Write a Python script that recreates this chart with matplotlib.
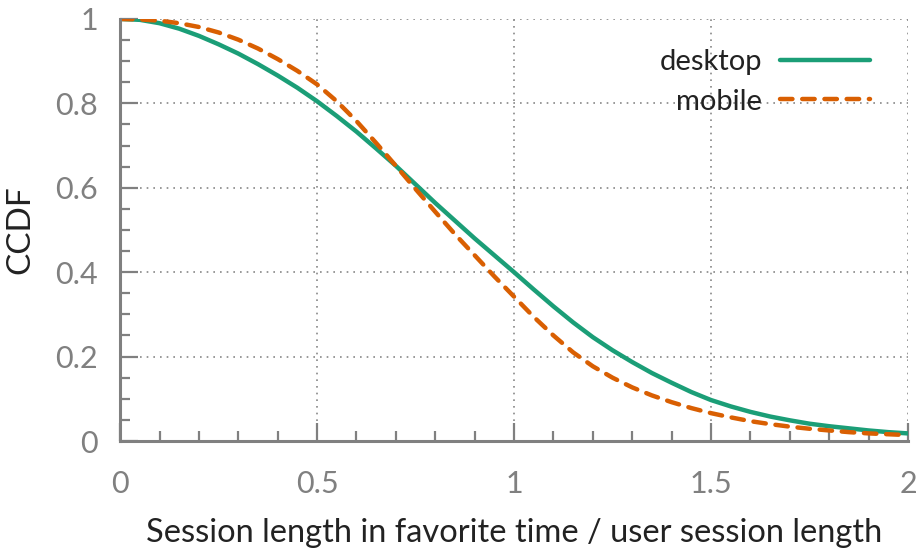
import matplotlib as mpl
mpl.use('Agg')
import matplotlib.pyplot as plt
import numpy as np

x = [0.0, 0.05, 0.1, 0.15, 0.2, 0.25, 0.3, 0.35, 0.4, 0.45, 0.5,
     0.55, 0.6, 0.65, 0.7, 0.75, 0.8, 0.85, 0.9, 0.95, 1.0,
     1.05, 1.1, 1.15, 1.2, 1.25, 1.3, 1.35, 1.4, 1.45, 1.5,
     1.55, 1.6, 1.65, 1.7, 1.75, 1.8, 1.85, 1.9, 1.95, 2.0]
desktop = [1.0, 0.998, 0.99, 0.977, 0.96, 0.94, 0.918, 0.893, 0.866, 0.837, 0.805,
           0.77, 0.733, 0.693, 0.652, 0.608, 0.564, 0.522, 0.48, 0.44, 0.40,
           0.359, 0.319, 0.281, 0.246, 0.215, 0.187, 0.161, 0.138, 0.116, 0.097,
           0.082, 0.069, 0.058, 0.049, 0.041, 0.035, 0.03, 0.025, 0.021, 0.018]
mobile = [1.0, 0.999, 0.996, 0.99, 0.981, 0.968, 0.951, 0.93, 0.905, 0.877, 0.845,
          0.805, 0.758, 0.706, 0.652, 0.597, 0.543, 0.49, 0.44, 0.39, 0.342,
          0.294, 0.25, 0.21, 0.177, 0.15, 0.127, 0.108, 0.092, 0.078, 0.066,
          0.056, 0.047, 0.04, 0.034, 0.029, 0.025, 0.021, 0.018, 0.016, 0.014]

xticks = [0, 0.5, 1, 1.5, 2]
xlabels = ['0', '0.5', '1', '1.5', '2']
yticks = [0, 0.2, 0.4, 0.6, 0.8, 1]
ylabels = ['0', '0.2', '0.4', '0.6', '0.8', '1']

plt.rcParams['font.family'] = ['Lato', 'DejaVu Sans']
gray = '#808080'

fig = plt.figure(figsize=(9.24, 5.55), dpi=100)
ax = fig.add_axes([0.13, 0.2054, 0.8527, 0.7604])

ax.plot(x, desktop, color='#1b9e77', lw=3.2, label='desktop', solid_capstyle='round')
ax.plot(x, mobile, color='#d95f02', lw=3.2, ls=(0, (2.8, 2.2)), dash_capstyle='round',
        label='mobile')

ax.set_xlim(0, 2)
ax.set_ylim(0, 1)
ax.set_xticks(xticks)
ax.set_xticklabels(xlabels)
ax.set_yticks(yticks)
ax.set_yticklabels(ylabels)
ax.set_xticks(np.arange(0, 2.01, 0.1), minor=True)
ax.set_yticks(np.arange(0, 1.01, 0.05), minor=True)

for s in ['top', 'right']:
    ax.spines[s].set_visible(False)
for s in ['left', 'bottom']:
    ax.spines[s].set_color(gray)
    ax.spines[s].set_linewidth(2.2)

ax.tick_params(which='major', direction='in', length=13, width=1.6, color=gray,
               labelcolor=gray, labelsize=22)
ax.tick_params(which='minor', direction='in', length=7, width=1.6, color=gray)
ax.tick_params(axis='x', which='major', pad=21)
ax.tick_params(axis='y', which='major', pad=16)

ax.grid(True, which='major', ls=(0, (1, 3)), color='#888888', lw=1.2)

ax.set_xlabel('Session length in favorite time / user session length',
              fontsize=23.5, color='#222222', labelpad=14)
ax.set_ylabel('CCDF', fontsize=24, color='#222222', labelpad=14)

leg = ax.legend(loc='upper right', frameon=False, markerfirst=False,
                fontsize=21, handlelength=3.1, labelspacing=0.45,
                handletextpad=0.6, bbox_to_anchor=(0.985, 0.99))
for t in leg.get_texts():
    t.set_color('#222222')

plt.savefig('out.png', dpi=100)
